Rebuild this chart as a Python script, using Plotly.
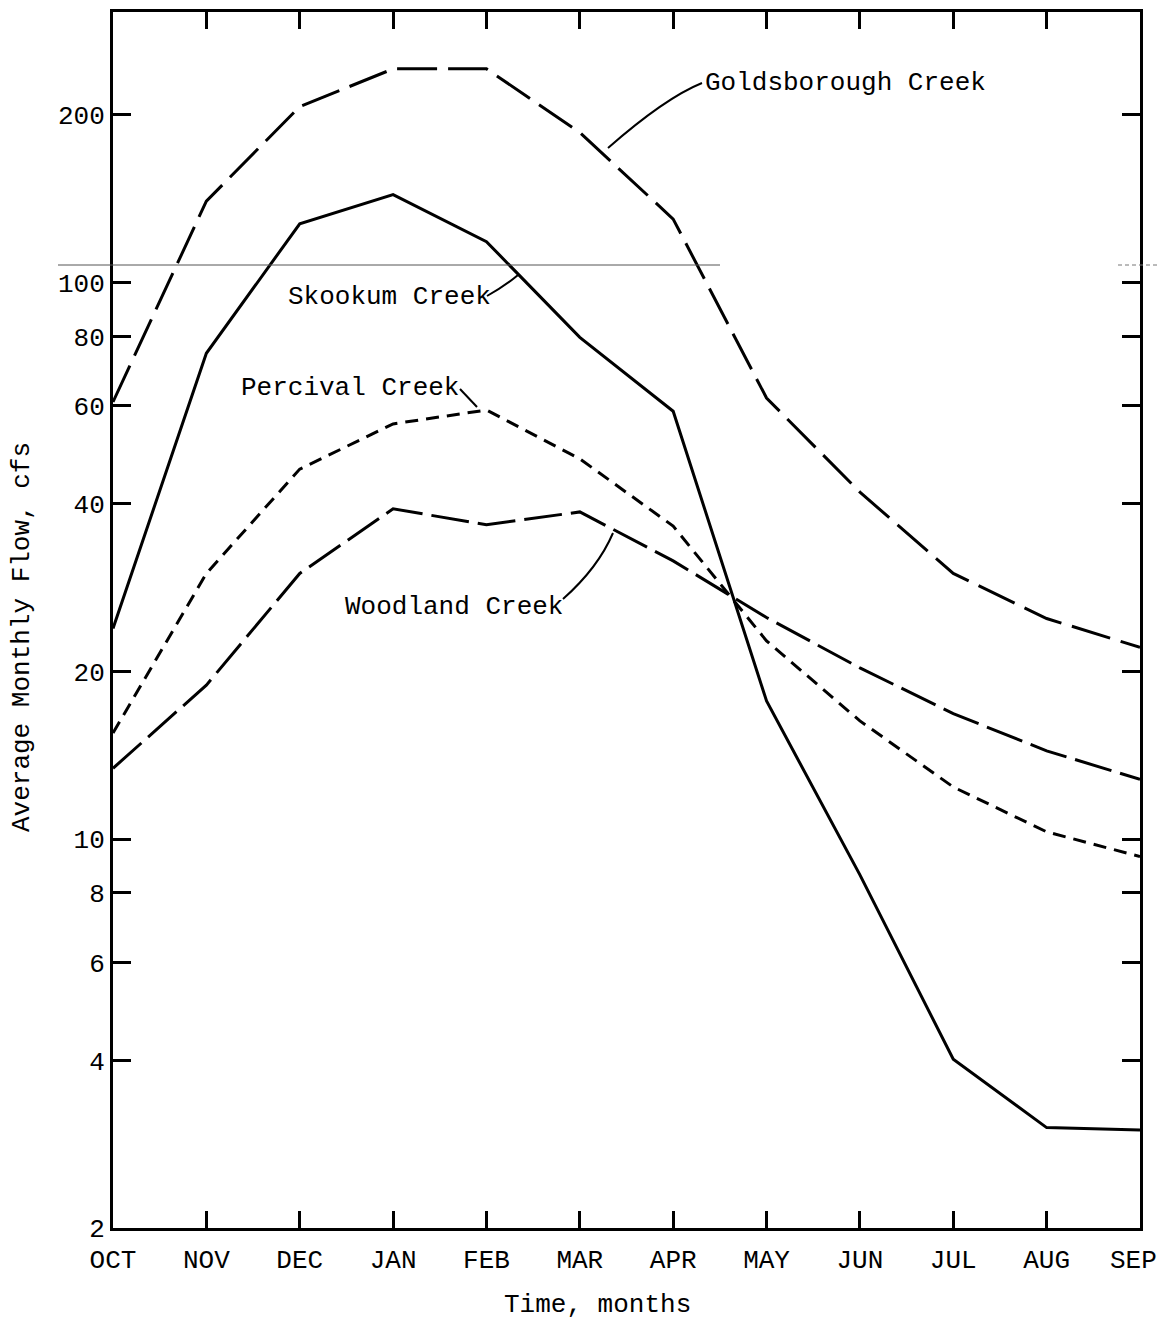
import math
import plotly.graph_objects as go

# ---- data ----
months = ["OCT", "NOV", "DEC", "JAN", "FEB", "MAR", "APR", "MAY", "JUN", "JUL", "AUG", "SEP"]
goldsborough = [61, 140, 207, 242, 242, 186, 130, 62, 42, 30, 24.9, 22.1]
skookum = [23.9, 74.6, 127.5, 143.8, 118.4, 79.7, 58.7, 17.7, 8.62, 4.02, 3.03, 3.0]
percival = [15.5, 30, 46.2, 55.7, 59, 48.2, 36.5, 22.7, 16.3, 12.4, 10.3, 9.3]
woodland = [13.4, 18.9, 30, 39.2, 36.7, 38.7, 31.6, 25, 20.3, 16.8, 14.4, 12.8]
y_tick_vals = [2, 4, 6, 8, 10, 20, 40, 60, 80, 100, 200]
y_tick_text = [str(v) for v in y_tick_vals]

# ---- layout geometry ----
W, H = 1159, 1322
ML, MR, MT, MB = 113, 19, 12, 94
PW, PH = W - ML - MR, H - MT - MB
FONT = "Liberation Mono"
FS = 26


def px(X):
    return (X - ML) / PW


def py(Y):
    return (H - MB - Y) / PH


x_idx = list(range(len(months)))

fig = go.Figure()
series = [
    ("Goldsborough Creek", goldsborough, "40px,11px"),
    ("Skookum Creek", skookum, "solid"),
    ("Percival Creek", percival, "13px,8px"),
    ("Woodland Creek", woodland, "38px,9px"),
]
for name, vals, dash in series:
    fig.add_trace(go.Scatter(
        x=x_idx, y=vals, mode="lines", name=name,
        line=dict(color="black", width=3, dash=dash),
        showlegend=False,
    ))

# label annotations
labels = [
    ("Goldsborough Creek", 703, 83),
    ("Skookum Creek", 286, 297),
    ("Percival Creek", 239, 388),
    ("Woodland Creek", 343, 607),
]
annotations = []
for text, lx, ly in labels:
    annotations.append(dict(
        text=text, x=px(lx), y=py(ly), xref="paper", yref="paper",
        xanchor="left", yanchor="middle", showarrow=False,
        font=dict(family=FONT, size=FS, color="black"),
    ))
annotations.append(dict(
    text="Time, months", x=px(597), y=py(1305), xref="paper", yref="paper",
    xanchor="center", yanchor="middle", showarrow=False,
    font=dict(family=FONT, size=FS, color="black"),
))
annotations.append(dict(
    text="Average Monthly Flow, cfs", x=px(22), y=py(637), xref="paper", yref="paper",
    xanchor="center", yanchor="middle", showarrow=False, textangle=-90,
    font=dict(family=FONT, size=FS, color="black"),
))
# last month label sits flush with the page edge, as in the reference
annotations.append(dict(
    text=months[-1], x=px(1159), y=py(1261), xref="paper", yref="paper",
    xanchor="right", yanchor="middle", showarrow=False,
    font=dict(family=FONT, size=FS, color="black"),
))
x_tick_text = months[:-1] + [""]


def qpath(p0, c, p1):
    return "M {} {} Q {} {} {} {}".format(px(p0[0]), py(p0[1]), px(c[0]), py(c[1]), px(p1[0]), py(p1[1]))


def lpath(p0, p1):
    return "M {} {} L {} {}".format(px(p0[0]), py(p0[1]), px(p1[0]), py(p1[1]))


leader_style = dict(type="path", xref="paper", yref="paper", line=dict(color="black", width=2))
shapes = [
    dict(path=qpath((608, 148), (665, 98), (702, 83)), **leader_style),
    dict(path=qpath((487, 296), (505, 286), (518, 275)), **leader_style),
    dict(path=lpath((460, 389), (477, 407)), **leader_style),
    dict(path=qpath((563, 599), (598, 568), (613, 533)), **leader_style),
    # faint scan line across the sheet
    dict(type="line", xref="paper", yref="paper", x0=px(58), x1=px(720), y0=py(265), y1=py(265),
         line=dict(color="#555555", width=1)),
    dict(type="line", xref="paper", yref="paper", x0=px(1118), x1=px(1159), y0=py(265), y1=py(265),
         line=dict(color="#777777", width=1, dash="4px,3px")),
]

fig.update_layout(
    width=W, height=H,
    margin=dict(l=ML, r=MR, t=MT, b=MB, pad=0, autoexpand=False),
    paper_bgcolor="white", plot_bgcolor="white",
    font=dict(family=FONT, size=FS, color="black"),
    annotations=annotations,
    shapes=shapes,
    showlegend=False,
)
fig.update_xaxes(
    range=[0, len(months) - 1],
    tickmode="array", tickvals=x_idx, ticktext=x_tick_text,
    ticks="inside", ticklen=17, tickwidth=3, tickcolor="black",
    showline=True, linewidth=3, linecolor="black", mirror="ticks",
    showgrid=False, zeroline=False, automargin=False,
    ticklabeloverflow="allow", ticklabelstandoff=6,
    tickfont=dict(family=FONT, size=FS, color="black"),
)
fig.update_yaxes(
    type="log",
    range=[math.log10(2), 2.486],
    tickmode="array", tickvals=y_tick_vals, ticktext=y_tick_text,
    ticks="inside", ticklen=18, tickwidth=3, tickcolor="black",
    showline=True, linewidth=3, linecolor="black", mirror="ticks",
    showgrid=False, zeroline=False, automargin=False,
    ticklabeloverflow="allow", ticklabelstandoff=0,
    tickfont=dict(family=FONT, size=FS, color="black"),
)

fig.write_html(
    "out.html",
    config={"displayModeBar": False},
    post_script="document.body.style.margin='0';document.body.style.overflow='hidden';",
)
